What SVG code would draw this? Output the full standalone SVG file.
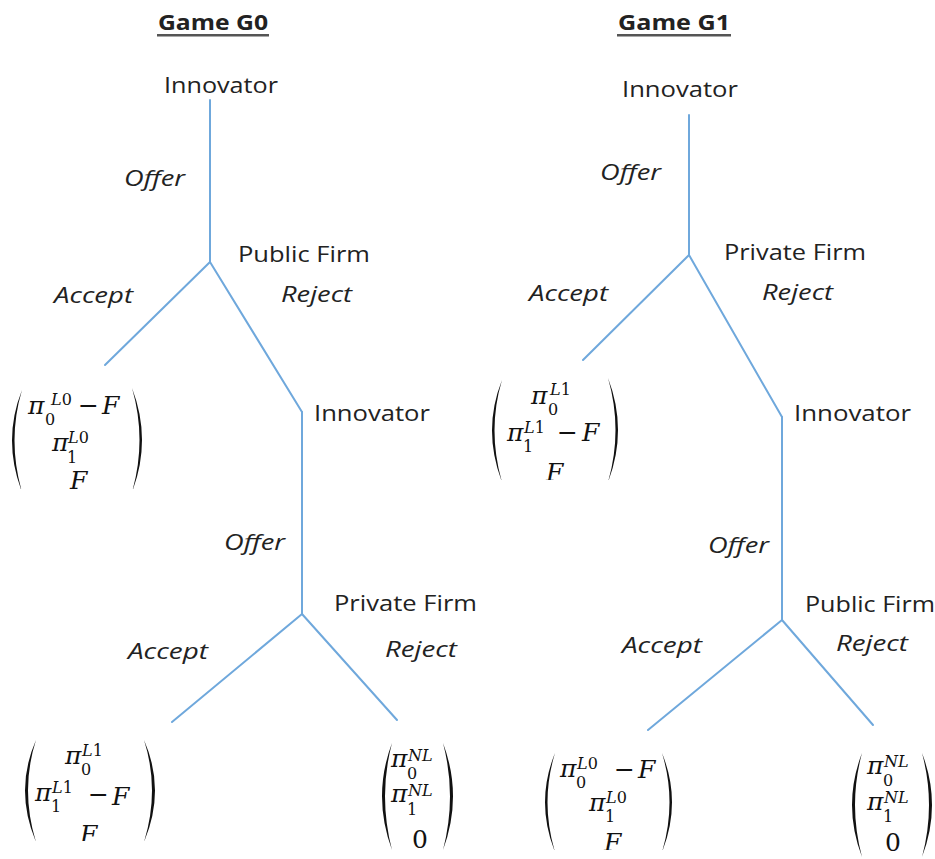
<svg xmlns="http://www.w3.org/2000/svg" width="935" height="859" viewBox="0 0 935 859">
<style>
.lbl{font-family:"Open Sans","Liberation Sans",sans-serif;font-size:22px;fill:#222}
.it{font-style:italic}
.ttl{font-family:"Open Sans","Liberation Sans",sans-serif;font-size:22px;font-weight:bold;fill:#222}
.m{font-family:"DejaVu Serif",serif;font-style:italic;font-size:25px;fill:#111}
.s{font-family:"DejaVu Serif",serif;font-style:italic;font-size:16px;fill:#111}
.u{font-style:normal}
.edge{stroke:#6fa8dc;stroke-width:2;fill:none;stroke-linecap:round}
.par{fill:#111}
</style>
<defs>
<clipPath id="c1"><rect x="0" y="380" width="160" height="109"/></clipPath>
<clipPath id="c2"><rect x="480" y="370" width="160" height="110"/></clipPath>
<clipPath id="c3"><rect x="0" y="730" width="180" height="111"/></clipPath>
<clipPath id="c5"><rect x="530" y="740" width="180" height="110"/></clipPath>
</defs>
<rect width="935" height="859" fill="#fff"/>

<g id="connectors">
<line class="edge" x1="210" y1="100" x2="210" y2="262"/>
<line class="edge" x1="210" y1="262" x2="105" y2="365"/>
<line class="edge" x1="210" y1="262" x2="302" y2="412"/>
<line class="edge" x1="302" y1="412" x2="302" y2="614"/>
<line class="edge" x1="302" y1="614" x2="172" y2="722"/>
<line class="edge" x1="302" y1="614" x2="397" y2="720"/>
<line class="edge" x1="689" y1="115" x2="689" y2="255"/>
<line class="edge" x1="689" y1="255" x2="583" y2="360"/>
<line class="edge" x1="689" y1="255" x2="782" y2="417"/>
<line class="edge" x1="782" y1="417" x2="782" y2="620"/>
<line class="edge" x1="782" y1="620" x2="648" y2="730"/>
<line class="edge" x1="782" y1="620" x2="873" y2="725"/>
</g>

<g id="title-g0">
<text class="ttl" x="158" y="30" textLength="110" lengthAdjust="spacingAndGlyphs">Game G0</text>
<rect x="157" y="34" width="112" height="2.5" fill="#555"/>
</g>
<g id="title-g1">
<text class="ttl" x="618" y="30" textLength="112" lengthAdjust="spacingAndGlyphs">Game G1</text>
<rect x="617" y="34" width="114" height="2.5" fill="#555"/>
</g>

<g id="g0-innovator1"><text class="lbl" x="164" y="93" textLength="114" lengthAdjust="spacingAndGlyphs">Innovator</text></g>
<g id="g0-offer1"><text class="lbl it" x="124" y="186" textLength="61" lengthAdjust="spacingAndGlyphs">Offer</text></g>
<g id="g0-public"><text class="lbl" x="238" y="262" textLength="132" lengthAdjust="spacingAndGlyphs">Public Firm</text></g>
<g id="g0-accept1"><text class="lbl it" x="54" y="303" textLength="79" lengthAdjust="spacingAndGlyphs">Accept</text></g>
<g id="g0-reject1"><text class="lbl it" x="281" y="302" textLength="71" lengthAdjust="spacingAndGlyphs">Reject</text></g>
<g id="g0-innovator2"><text class="lbl" x="314" y="421" textLength="116" lengthAdjust="spacingAndGlyphs">Innovator</text></g>
<g id="g0-offer2"><text class="lbl it" x="224" y="550" textLength="61" lengthAdjust="spacingAndGlyphs">Offer</text></g>
<g id="g0-private"><text class="lbl" x="334" y="611" textLength="143" lengthAdjust="spacingAndGlyphs">Private Firm</text></g>
<g id="g0-accept2"><text class="lbl it" x="128" y="659" textLength="80" lengthAdjust="spacingAndGlyphs">Accept</text></g>
<g id="g0-reject2"><text class="lbl it" x="385" y="657" textLength="72" lengthAdjust="spacingAndGlyphs">Reject</text></g>

<g id="g1-innovator1"><text class="lbl" x="622" y="97" textLength="116" lengthAdjust="spacingAndGlyphs">Innovator</text></g>
<g id="g1-offer1"><text class="lbl it" x="600" y="180" textLength="61" lengthAdjust="spacingAndGlyphs">Offer</text></g>
<g id="g1-private"><text class="lbl" x="724" y="260" textLength="142" lengthAdjust="spacingAndGlyphs">Private Firm</text></g>
<g id="g1-accept1"><text class="lbl it" x="529" y="301" textLength="79" lengthAdjust="spacingAndGlyphs">Accept</text></g>
<g id="g1-reject1"><text class="lbl it" x="762" y="300" textLength="71" lengthAdjust="spacingAndGlyphs">Reject</text></g>
<g id="g1-innovator2"><text class="lbl" x="794" y="421" textLength="117" lengthAdjust="spacingAndGlyphs">Innovator</text></g>
<g id="g1-offer2"><text class="lbl it" x="708" y="553" textLength="61" lengthAdjust="spacingAndGlyphs">Offer</text></g>
<g id="g1-public"><text class="lbl" x="805" y="612" textLength="130" lengthAdjust="spacingAndGlyphs">Public Firm</text></g>
<g id="g1-accept2"><text class="lbl it" x="622" y="653" textLength="80" lengthAdjust="spacingAndGlyphs">Accept</text></g>
<g id="g1-reject2"><text class="lbl it" x="836" y="651" textLength="72" lengthAdjust="spacingAndGlyphs">Reject</text></g>

<!-- payoff vectors -->
<g id="g0-payoff-accept1" clip-path="url(#c1)">
<path class="par" d="M22,390 Q2,440 22,492 Q7,440 22,390 Z"/>
<path class="par" d="M132,388 Q152,440 132,492 Q147,440 132,388 Z"/>
<text class="m" x="28" y="414">π</text>
<text class="s" x="51" y="405">L<tspan class="u">0</tspan></text>
<text class="s u" x="45" y="425">0</text>
<text class="m u" x="78" y="414">−</text>
<text class="m" x="102" y="414">F</text>
<text class="m" x="52" y="451">π</text>
<text class="s" x="68" y="443">L<tspan class="u">0</tspan></text>
<text class="s u" x="67" y="463">1</text>
<text class="m" x="70" y="489">F</text>
</g>

<g id="g1-payoff-accept1" clip-path="url(#c2)">
<path class="par" d="M502,380 Q482,430 502,482 Q487,430 502,380 Z"/>
<path class="par" d="M608,378 Q628,430 608,482 Q623,430 608,378 Z"/>
<text class="m" x="531" y="404">π</text>
<text class="s" x="550" y="395">L<tspan class="u">1</tspan></text>
<text class="s u" x="548" y="415">0</text>
<text class="m" x="507" y="441">π</text>
<text class="s" x="524" y="433">L<tspan class="u">1</tspan></text>
<text class="s u" x="523" y="452">1</text>
<text class="m u" x="557" y="441">−</text>
<text class="m" x="582" y="441">F</text>
<text class="m" x="546" y="481">F</text>
</g>

<g id="g0-payoff-accept2" clip-path="url(#c3)">
<path class="par" d="M36,740 Q14,790 36,842 Q20,790 36,740 Z"/>
<path class="par" d="M144,740 Q166,790 144,842 Q160,790 144,740 Z"/>
<text class="m" x="65" y="764">π</text>
<text class="s" x="82" y="756">L<tspan class="u">1</tspan></text>
<text class="s u" x="81" y="775">0</text>
<text class="m" x="35" y="801">π</text>
<text class="s" x="52" y="793">L<tspan class="u">1</tspan></text>
<text class="s u" x="51" y="812">1</text>
<text class="m u" x="88" y="803">−</text>
<text class="m" x="112" y="805">F</text>
<text class="m" x="80" y="843" font-size="20">F</text>
</g>

<g id="g0-payoff-reject2">
<path class="par" d="M392,743 Q372,796 392,850 Q378,796 392,743 Z"/>
<path class="par" d="M443,743 Q463,796 443,850 Q457,796 443,743 Z"/>
<text class="m" x="391" y="767">π</text>
<text class="s" x="408" y="761">NL</text>
<text class="s u" x="407" y="779">0</text>
<text class="m" x="391" y="802">π</text>
<text class="s" x="408" y="796">NL</text>
<text class="s u" x="407" y="815">1</text>
<text class="m u" x="412" y="848">0</text>
</g>

<g id="g1-payoff-accept2" clip-path="url(#c5)">
<path class="par" d="M555,753 Q535,802 555,852 Q540,802 555,753 Z"/>
<path class="par" d="M662,753 Q682,802 662,852 Q677,802 662,753 Z"/>
<text class="m" x="560" y="777">π</text>
<text class="s" x="577" y="769">L<tspan class="u">0</tspan></text>
<text class="s u" x="576" y="788">0</text>
<text class="m u" x="614" y="778">−</text>
<text class="m" x="638" y="778">F</text>
<text class="m" x="589" y="811">π</text>
<text class="s" x="606" y="803">L<tspan class="u">0</tspan></text>
<text class="s u" x="605" y="822">1</text>
<text class="m" x="604" y="851">F</text>
</g>

<g id="g1-payoff-reject2">
<path class="par" d="M862,753 Q842,805 862,857 Q848,805 862,753 Z"/>
<path class="par" d="M922,753 Q942,805 922,857 Q936,805 922,753 Z"/>
<text class="m" x="867" y="774">π</text>
<text class="s" x="884" y="767">NL</text>
<text class="s u" x="883" y="786">0</text>
<text class="m" x="867" y="810">π</text>
<text class="s" x="884" y="803">NL</text>
<text class="s u" x="883" y="822">1</text>
<text class="m u" x="885" y="851">0</text>
</g>
</svg>
